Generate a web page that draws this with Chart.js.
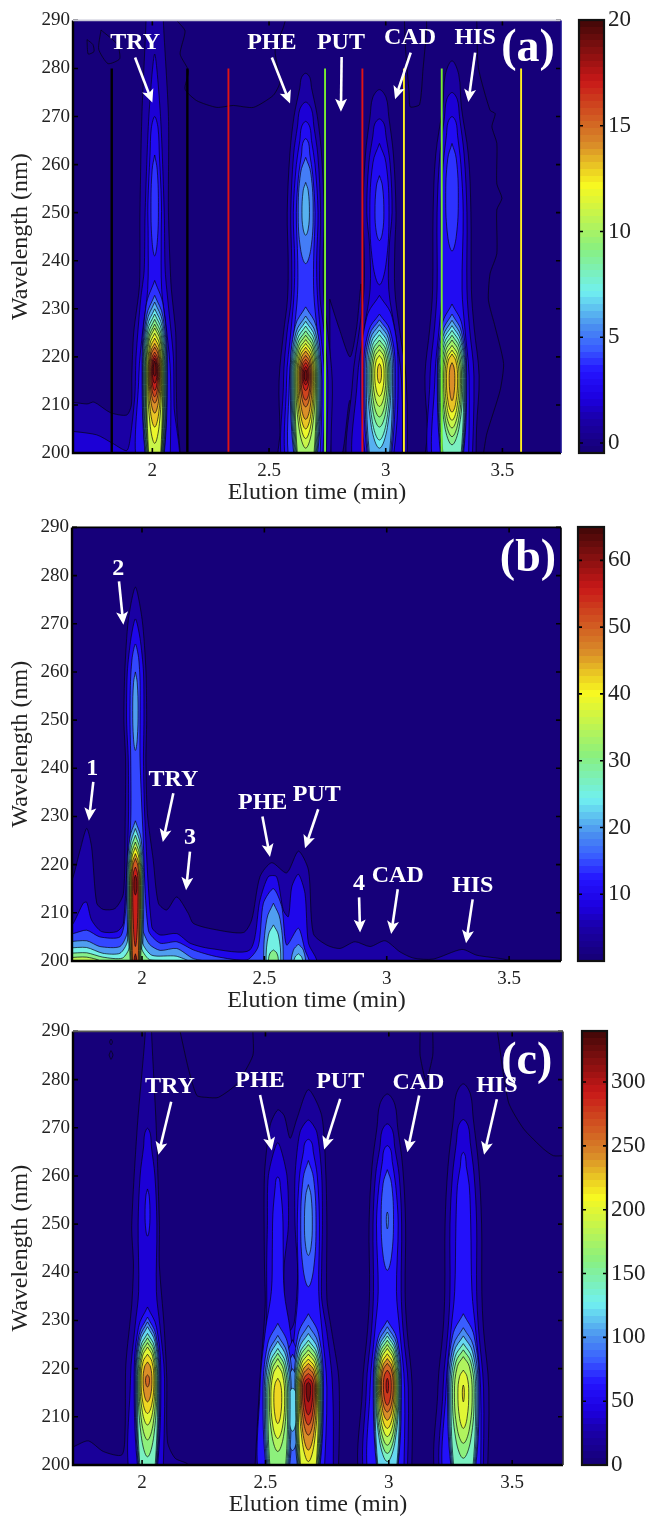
<!DOCTYPE html>
<html>
<head>
<meta charset="utf-8">
<script src="https://cdn.jsdelivr.net/npm/chart.js@4"></script>
<style>
  body { margin: 0; background: #fff; }
  #page { position: relative; width: 649px; height: 1516px; overflow: hidden; }
  canvas { position: absolute; }
</style>
</head>
<body>
<div id="page"></div>
<script>
// TICKS
const timeTicks = [2, 2.5, 3, 3.5];
const waveTicks = [200, 210, 220, 230, 240, 250, 260, 270, 280, 290];
const barTicksA = [0, 5, 10, 15, 20];
const barTicksB = [10, 20, 30, 40, 50, 60];
const barTicksC = [0, 50, 100, 150, 200, 250, 300];

// colour bar, fraction of the bar -> colour
const barStops = [0, .07, .12, .185, .24, .29, .37, .47, .62, .72, .865, 1];
const barColors = ["#16007a", "#1a00a8", "#1c00e0", "#2414ff", "#3a60ff", "#4a90f0", "#70f0f0", "#88f080", "#f8f820", "#d88828", "#c81818", "#480808"];

// PANEL A  rings are [level, lowest wavelength, highest wavelength, half width in min]
const tryLowA = [[4,190,235.9,.054],[5,190,232.8,.052],[6,190,231.4,.049],[7,190,230,.046],[8,190,228.9,.043],[9,190,227.8,.04],[10,190,226.8,.037],[11,190,226,.034],[12,202,224.9,.03],[13,205.4,223.9,.027],[14,208.3,222.8,.024],[15,210.4,222,.021],[16,211.7,221,.017],[17,213,220.3,.013],[18,214.5,219.7,.01],[19,216,219.1,.006]];
const pheLowA = [[5,190,230.4,.066],[6,190,228.5,.062],[7,190,227.4,.058],[8,190,226.4,.054],[9,190,225.4,.05],[10,190,224.5,.046],[11,201,223.6,.042],[12,203,222.8,.037],[13,205,222,.033],[14,207,221.2,.028],[15,209.6,220.3,.024],[16,211,219.5,.02],[17,213,218.8,.015],[18,214.2,218,.011],[19,215,217.3,.006]];
const cadLowA = [[3,190,232.8,.08],[4,190,228.9,.068],[5,190,227.7,.062],[6,190,226.7,.056],[7,201,225.6,.05],[8,202.7,224.6,.045],[9,205.4,223.5,.04],[10,207.5,222.5,.034],[11,209.7,221.5,.028],[12,211.8,220.3,.02],[13,214.5,218.6,.009]];
const hisLowA = [[4,190,231,.063],[5,190,228.9,.06],[6,190,227.6,.057],[7,190,226.5,.054],[8,190,225.5,.05],[9,201.7,224.5,.046],[10,203.4,223.5,.041],[11,205.2,222.4,.036],[12,206.8,221.4,.03],[13,208.5,220.6,.024],[14,210.9,218.8,.012]];
const ringSetsA = [
  [2.01, 217, tryLowA], [2.01, 251, [[4,241,262,.016]]],
  [2.657, 216, pheLowA], [2.657, 250, [[5,239.4,261.5,.032],[6,245.3,256.3,.016]]],
  [2.973, 216.5, cadLowA], [2.973, 250, [[3,235,264.4,.041],[4,244.2,257.7,.019]]],
  [3.284, 215.5, hisLowA], [3.284, 253, [[4,242,264.4,.027]]]
];
// ridges are [time, level, wavelength, half width, wavelength, half width, ...]
const ridgesA = [
  [2.01, 3, 195,.066, 216,.068, 226,.05, 234,.03, 245,.028, 252,.029, 262,.02, 270,0],
  [2.657, 1, 195,.105, 205,.11, 215,.114, 225,.095, 232,.078, 240,.075, 250,.079, 262,.068, 270,.05, 276,.025, 279,0],
  [2.657, 2, 195,.085, 215,.095, 225,.08, 232,.062, 240,.06, 250,.064, 262,.052, 268,.035, 273,0],
  [2.657, 3, 195,.07, 215,.082, 226,.062, 233,.05, 240,.047, 250,.053, 260,.04, 265,.025, 269,0],
  [2.657, 4, 195,.058, 215,.07, 226,.048, 233,.035, 240,.034, 250,.04, 258,.03, 262,.018, 265.4,0],
  [2.973, 1, 195,.12, 215,.115, 226,.085, 234,.066, 243,.066, 250,.071, 262,.06, 270,.04, 275.6,0],
  [2.973, 2, 195,.098, 215,.095, 226,.065, 234,.04, 243,.042, 250,.054, 260,.046, 266,.028, 269.5,0],
  [3.284, 1, 195,.102, 205,.105, 216,.116, 226,.095, 234,.083, 250,.081, 262,.07, 272,.04, 281.6,0],
  [3.284, 2, 195,.085, 216,.094, 226,.075, 234,.064, 250,.064, 262,.052, 270,.032, 275,0],
  [3.284, 3, 195,.07, 216,.073, 226,.055, 234,.043, 250,.048, 260,.038, 266,.024, 270,0]
];
// shapes are [level, time, wavelength, time, wavelength, ...]
const shapesA = [
  [1, 1.6,211, 1.72,210.2, 1.75,210.6, 1.82,208.4, 1.89,207.9, 1.91,210, 1.912,216, 1.92,225, 1.945,235, 1.947,250, 1.955,270, 1.973,290, 1.973,295, 2.047,295, 2.047,290, 2.069,270, 2.069,250, 2.08,235, 2.10,225, 2.102,216, 2.106,207, 2.119,200, 2.119,195, 1.6,195],
  [2, 1.6,204.8, 1.76,203.8, 1.83,202, 1.89,200.5, 1.905,203, 1.925,212, 1.93,220, 1.95,232, 1.965,238, 1.969,250, 1.985,270, 2.01,283, 2.035,270, 2.051,250, 2.055,238, 2.07,230, 2.09,220, 2.093,210, 2.098,195, 1.6,195],
  [1, 2.76,232, 2.80,226, 2.847,220, 2.875,226, 2.895,235, 2.895,195, 2.885,200, 2.847,211, 2.815,200, 2.77,195]
];
const linesA = [
  [2.104,290, 2.14,287.8, 2.119,283, 2.155,279.5, 2.14,275.7, 2.19,273.3, 2.276,271.9, 2.347,272.3, 2.433,271.9, 2.518,274.4, 2.547,277.2, 2.526,283.7, 2.561,288.5, 2.57,290],
  [3.08,290, 3.085,284, 3.10,275, 3.105,272, 3.145,272.5, 3.16,280, 3.175,288, 3.175,290],
  [3.39,290, 3.397,280.2, 3.447,271.3, 3.469,270.6, 3.455,267.9, 3.476,264.4, 3.476,256, 3.498,253, 3.476,250.6, 3.476,241.5, 3.447,237.3, 3.44,231.8, 3.469,226.2, 3.505,218.6, 3.49,213, 3.433,204, 3.419,200],
  [1.72,286, 1.745,285, 1.75,283.5, 1.725,283, 1.72,286],
  [1.78,288, 1.85,285, 1.86,282, 1.81,281, 1.77,284, 1.78,288]
];
const markerTimes = [1.826, 2.15, 2.326, 2.90, 2.74, 3.24, 3.078, 3.58];
const markerColors = ["#000", "#000", "#e01414", "#e01414", "#78f030", "#78f030", "#fff020", "#fff020"];
const markerRange = [200, 280];
// arrows are [label, label time, label wavelength, tail time, tail wavelength, tip time, tip wavelength]
const arrowsA = [
  ["TRY", 1.926,285.3, 1.926,282.3, 2.0,272.9],
  ["PHE", 2.512,285.3, 2.512,282.3, 2.59,272.7],
  ["PUT", 2.808,285.3, 2.811,282.4, 2.808,271],
  ["CAD", 3.104,286.4, 3.107,283.3, 3.04,273.6],
  ["HIS", 3.383,286.4, 3.383,283.3, 3.354,273]
];

// PANEL B
const lowB2 = [[20,190,229.1,.034],[25,190,227.5,.03],[30,190,226.1,.027],[35,190,224.7,.024],[40,190,223.6,.021],[45,190,222.3,.018],[50,190,221.3,.015],[55,203,219.5,.011],[60,213.7,217.8,.006]];
const ringSetsB = [
  [1.973, 215.7, lowB2], [1.973, 252, [[20,243.7,260,.011]]], [1.973, 199, [[60,196,201.5,.006]]],
  [2.537, 200, [[20,188,212,.04],[25,188,207.5,.03],[30,190,202.3,.02]]],
  [2.639, 199, [[20,190,203.5,.03],[25,190,201.5,.02]]]
];
const ridgesB = [];
const shapesB = [
  [5, 1.70,215, 1.719,217.5, 1.747,223, 1.774,227.5, 1.794,223.7, 1.815,212, 1.842,210.7, 1.89,210.9, 1.924,214, 1.931,227.8, 1.933,241.7, 1.926,249.9, 1.93,260.3, 1.944,270.7, 1.973,277.6, 2.001,270.7, 2.016,260.3, 2.019,249.9, 2.016,241.7, 2.022,230.6, 2.046,220.9, 2.067,212, 2.101,210.6, 2.142,213.3, 2.189,209.9, 2.21,207.8, 2.291,206.6, 2.414,205.9, 2.448,208.5, 2.482,217.5, 2.53,220.4, 2.591,218.3, 2.639,222.8, 2.68,218.9, 2.70,205.7, 2.755,203.3, 2.809,202.6, 2.87,204, 2.932,203, 2.993,204.2, 3.054,201.9, 3.109,200.6, 3.19,200.4, 3.307,202.4, 3.368,201.2, 3.477,200.4, 3.531,199.5, 3.53,195, 1.70,195],
  [10, 1.70,207, 1.719,207.8, 1.76,212, 1.774,212.2, 1.794,208.5, 1.835,206.1, 1.897,206.1, 1.924,207.8, 1.944,227.8, 1.944,241.7, 1.937,250, 1.94,260, 1.955,267, 1.973,271, 1.992,267, 2.006,260, 2.008,250, 2.006,241.7, 2.012,229.2, 2.04,207.1, 2.074,205.4, 2.142,205.7, 2.196,203.7, 2.278,202.6, 2.441,202.3, 2.482,212.6, 2.516,217.5, 2.55,217.5, 2.577,210.6, 2.598,209.2, 2.612,215.4, 2.639,218, 2.666,214, 2.68,203.7, 2.714,200.2, 2.72,195, 1.70,195],
  [15, 1.70,205.7, 1.719,205.7, 1.774,206.4, 1.828,205, 1.91,205, 1.931,209.2, 1.954,229.2, 1.954,241.7, 1.951,250, 1.953,258, 1.96,263, 1.973,265.8, 1.986,263, 1.992,258, 1.992,250, 1.992,241.7, 2.003,227.8, 2.026,206.4, 2.074,203.7, 2.142,204, 2.21,202.3, 2.305,200.9, 2.428,200.2, 2.475,203, 2.496,212, 2.537,215, 2.571,211.3, 2.591,203.3, 2.639,206.8, 2.666,202.3, 2.686,199.6, 2.69,195, 1.70,195],
  [20, 1.70,204, 1.774,204.2, 1.828,203, 1.91,203, 1.94,206, 1.95,215, 1.99,215, 2.0,207, 2.03,203.5, 2.074,202.2, 2.142,202.6, 2.21,200.5, 2.3,199.5, 1.70,195],
  [25, 1.70,202.7, 1.774,202.8, 1.84,201.6, 1.91,201.6, 1.94,204, 1.95,212, 1.99,212, 2.0,204, 2.04,201.2, 2.14,201, 2.2,199.5, 1.70,195],
  [30, 1.70,201.6, 1.774,201.7, 1.84,200.8, 1.92,200.6, 1.95,203, 1.96,212, 1.985,212, 1.995,203, 2.03,200.3, 2.1,200, 2.12,199, 1.70,195],
  [35, 1.70,200.7, 1.774,200.8, 1.83,199.8, 1.70,195]
];
const linesB = [];
const arrowsB = [
  ["1", 1.797,239.9, 1.801,237.2, 1.783,229.1],
  ["2", 1.903,281.4, 1.906,278.8, 1.924,269.8],
  ["TRY", 2.128,237.7, 2.128,234.8, 2.085,224.7],
  ["3", 2.196,225.6, 2.196,222.7, 2.18,214.7],
  ["PHE", 2.493,232.9, 2.492,230, 2.523,221.6],
  ["PUT", 2.714,234.5, 2.72,231.5, 2.666,223.4],
  ["4", 2.887,216, 2.887,213.2, 2.891,205.9],
  ["CAD", 3.045,217.7, 3.045,214.9, 3.018,205.6],
  ["HIS", 3.351,215.6, 3.351,212.8, 3.324,203.7]
];

// PANEL C
const tryLowC = [[60,190,232.8,.054],[80,190,230.7,.05],[100,190,229.7,.047],[120,190,228.7,.044],[140,190,227.3,.041],[160,201.7,226.4,.038],[180,205.2,225.4,.034],[200,208.3,224.5,.03],[220,210.7,223,.026],[240,213.1,221.4,.018],[260,216.2,218.7,.008]];
const pheLowC = [[80,190,229.4,.06],[100,190,226.9,.055],[120,190,225.7,.05],[140,190,224.2,.045],[160,190,223.2,.04],[180,202.8,222.1,.034],[200,205.5,220.7,.028],[220,208.6,218,.016]];
const putLowC = [[80,190,231.4,.061],[100,190,229,.058],[120,190,227.3,.055],[140,190,225.9,.052],[160,190,225,.049],[180,190,223.9,.045],[200,190,223,.041],[220,200.7,222,.037],[240,203.1,221.1,.033],[260,206.2,220.1,.029],[280,208.3,219,.024],[300,210.4,218,.018],[320,213.1,217.2,.009]];
const cadLowC = [[80,190,230,.057],[100,190,228.7,.054],[120,190,227.6,.05],[140,200.7,226.8,.047],[160,202.4,225.9,.044],[180,204.1,225,.04],[200,205.9,224.2,.036],[220,207.6,223.1,.032],[240,209.3,222.1,.028],[260,211,221.1,.024],[280,212.4,219.7,.016],[300,214.9,218,.005]];
const hisLowC = [[80,190,231.4,.064],[100,190,228.5,.06],[120,190,226.8,.055],[140,190,225.2,.05],[160,201.4,223.9,.044],[180,204.5,222.5,.036],[200,207.6,219.7,.022],[220,213.1,216.6,.004]];
const ringSetsC = [
  [2.022, 217.6, tryLowC], [2.022, 252, [[60,247.5,257.3,.01]]],
  [2.55, 214, pheLowC],
  [2.61, 213, [[60,190,226,.04],[80,190,223,.035],[100,203,220,.03],[120,207,216,.02]]],
  [2.674, 216, putLowC], [2.674, 250, [[80,237,263.2,.031],[100,243.5,258.2,.016]]],
  [2.994, 216.5, cadLowC], [2.994, 251, [[80,240.4,261.3,.025],[100,249,252.5,.004]]],
  [3.302, 215, hisLowC]
];
const ridgesC = [
  [2.022, 40, 195,.062, 218,.069, 229,.05, 236,.036, 250,.038, 260,.03, 266,.016, 269.9,0],
  [2.55, 60, 195,.065, 216,.072, 228,.05, 236,.026, 245,.022, 252,.02, 258,.01, 259.8,0],
  [2.674, 60, 195,.062, 216,.075, 228,.055, 236,.042, 250,.045, 260,.036, 265,.02, 267.6,0],
  [2.994, 20, 195,.098, 216,.101, 228,.08, 236,.072, 250,.074, 262,.062, 270,.042, 277,0],
  [2.994, 40, 195,.08, 216,.085, 228,.064, 236,.056, 250,.058, 260,.048, 266,.03, 270.8,0],
  [2.994, 60, 195,.066, 216,.07, 228,.05, 236,.037, 250,.044, 258,.034, 263,.02, 266.3,0],
  [3.302, 20, 195,.097, 216,.103, 228,.082, 236,.075, 250,.074, 262,.062, 272,.04, 279.1,0],
  [3.302, 40, 195,.08, 216,.082, 228,.062, 236,.054, 250,.054, 260,.044, 267,.028, 271.7,0],
  [3.302, 60, 195,.07, 216,.07, 228,.05, 236,.035, 250,.03, 258,.024, 262,.012, 264.9,0]
];
const shapesC = [
  [20, 1.70,203.5, 1.722,203.8, 1.782,205, 1.843,202.8, 1.918,202.1, 1.931,206.9, 1.934,220.7, 1.958,233.2, 1.965,241.5, 1.958,249.7, 1.981,270.5, 2.012,289, 2.015,295, 2.036,295, 2.039,289, 2.057,270.5, 2.07,249.7, 2.07,241.5, 2.089,229, 2.1,218, 2.103,204.8, 2.134,201.4, 2.188,200, 2.19,195, 1.70,195],
  [20, 2.458,200, 2.478,218, 2.499,233.2, 2.496,241.5, 2.496,260.1, 2.519,270.5, 2.55,273.7, 2.576,272.5, 2.6,267.8, 2.627,271.8, 2.674,277.9, 2.728,272.5, 2.745,260.1, 2.749,249.7, 2.749,234.5, 2.769,227.6, 2.796,218.7, 2.8,210.4, 2.796,200, 2.79,195, 2.45,195],
  [40, 2.499,200, 2.495,217.3, 2.505,231.1, 2.505,241.5, 2.508,249.7, 2.512,260.1, 2.55,266.9, 2.587,260.1, 2.593,249.7, 2.576,241.5, 2.576,234.5, 2.587,229, 2.6,227.9, 2.617,229.7, 2.63,238, 2.63,241.5, 2.62,249.7, 2.62,260.1, 2.64,269.1, 2.674,271.6, 2.708,269.1, 2.728,260.1, 2.731,249.7, 2.728,241.5, 2.728,234.5, 2.749,227.6, 2.769,218.7, 2.775,210.4, 2.775,200, 2.775,195, 2.49,195]
];
const linesC = [
  [2.154,290, 2.188,282.2, 2.222,276.7, 2.262,276.3, 2.309,276.3, 2.384,279.1, 2.449,285, 2.449,290],
  [3.127,290, 3.127,285, 3.151,279.8, 3.178,285, 3.178,290],
  [3.44,290, 3.485,275.3, 3.546,269.8, 3.627,265.6, 3.667,264.2, 3.71,264.2],
  [1.866,285.1, 1.874,286, 1.882,285.1, 1.874,284.2, 1.866,285.1],
  [1.868,287.8, 1.874,288.4, 1.88,287.8, 1.874,287.2, 1.868,287.8]
];
const arrowsC = [
  ["TRY", 2.113,278.4, 2.118,275.4, 2.066,264.4],
  ["PHE", 2.478,279.8, 2.478,276.8, 2.526,265.3],
  ["PUT", 2.803,279.6, 2.803,276, 2.738,265.5],
  ["CAD", 3.12,279.4, 3.123,276.7, 3.075,264.9],
  ["HIS", 3.438,278.8, 3.438,275.9, 3.386,264.4]
];

const serif = "'Liberation Serif', 'Times New Roman', serif";

function hex(c) {
  return [1, 3, 5].map(i => parseInt(c.slice(i, i + 2), 16));
}

// same 64 step map as the colour bar
function bandColor(f) {
  f = Math.max(0, Math.min(1, Math.floor(f * 64) / 63));
  let i = 0;
  while (i < barStops.length - 2 && f > barStops[i + 1]) i++;
  const k = (f - barStops[i]) / (barStops[i + 1] - barStops[i]);
  const a = hex(barColors[i]), b = hex(barColors[i + 1]);
  const rgb = a.map((v, n) => Math.round(v + (b[n] - v) * k));
  return `rgb(${rgb[0]},${rgb[1]},${rgb[2]})`;
}

// shoulders keep the closed contours oval instead of diamond shaped
function ringPoints(t, mid, row) {
  const [, low, high, half] = row;
  const s = half * .68, up = mid + (high - mid) * .72, down = mid - (mid - low) * .72;
  return [
    {x: t, y: high}, {x: t + s, y: up}, {x: t + half, y: mid}, {x: t + s, y: down},
    {x: t, y: low}, {x: t - s, y: down}, {x: t - half, y: mid}, {x: t - s, y: up}, {x: t, y: high}
  ];
}

function ridgePoints(ridge) {
  const t = ridge[0], right = [], left = [];
  for (let i = 2; i < ridge.length; i += 2) {
    const w = ridge[i], h = ridge[i + 1];
    if (h === 0) {
      const pw = ridge[i - 2], ph = ridge[i - 1];
      const sw = w - (w - pw) * .3, sh = ph * .72;
      right.push({x: t + sh, y: sw});
      left.unshift({x: t - sh, y: sw});
      right.push({x: t, y: w});
    } else {
      right.push({x: t + h, y: w});
      left.unshift({x: t - h, y: w});
    }
  }
  const pts = right.concat(left);
  pts.push(pts[0]);
  return pts;
}

function flatPoints(list) {
  const pts = [];
  for (let i = 0; i + 1 < list.length; i += 2) pts.push({x: list[i], y: list[i + 1]});
  return pts;
}

function contourDatasets(panel) {
  const rows = [];
  panel.ringSets.forEach(([t, mid, set]) => {
    set.forEach(row => rows.push({level: row[0], data: ringPoints(t, mid, row), tension: .4}));
  });
  panel.ridges.forEach(r => rows.push({level: r[1], data: ridgePoints(r), tension: .35}));
  panel.shapes.forEach(s => {
    const pts = flatPoints(s.slice(1));
    pts.push(pts[0]);
    rows.push({level: s[0], data: pts, tension: .25});
  });
  rows.sort((a, b) => b.level - a.level);
  const range = panel.max - panel.min;
  const sets = rows.map(r => ({
    data: r.data,
    showLine: true,
    fill: "shape",
    tension: r.tension,
    backgroundColor: bandColor((r.level - panel.min) / range),
    borderColor: "rgba(5,5,15,.85)",
    borderWidth: .8,
    pointRadius: 0
  }));
  panel.lines.forEach(l => sets.push({
    data: flatPoints(l), showLine: true, fill: false, tension: .2,
    borderColor: "rgba(5,5,15,.9)", borderWidth: .8, pointRadius: 0
  }));
  if (panel.markers) {
    markerTimes.forEach((t, i) => sets.unshift({
      data: [{x: t, y: markerRange[0]}, {x: t, y: markerRange[1]}], showLine: true, fill: false,
      borderColor: markerColors[i], borderWidth: markerColors[i] === "#000" ? 2.4 : 1.9, pointRadius: 0
    }));
  }
  return sets;
}

function drawArrow(ctx, x1, y1, x2, y2) {
  const a = Math.atan2(y2 - y1, x2 - x1);
  const neck = 9;
  ctx.strokeStyle = "#fff";
  ctx.fillStyle = "#fff";
  ctx.lineWidth = 2.6;
  ctx.beginPath();
  ctx.moveTo(x1, y1);
  ctx.lineTo(x2 - neck * Math.cos(a), y2 - neck * Math.sin(a));
  ctx.stroke();
  ctx.save();
  ctx.translate(x2, y2);
  ctx.rotate(a);
  ctx.beginPath();
  ctx.moveTo(0, 0);
  ctx.lineTo(-13, -6);
  ctx.lineTo(-10, 0);
  ctx.lineTo(-13, 6);
  ctx.closePath();
  ctx.fill();
  ctx.restore();
}

function inwardTicks(ctx, scale, area, len) {
  ctx.strokeStyle = "#000";
  ctx.lineWidth = 1.6;
  scale.ticks.forEach(tick => {
    const p = scale.getPixelForValue(tick.value);
    ctx.beginPath();
    if (scale.isHorizontal()) {
      ctx.moveTo(p, area.bottom); ctx.lineTo(p, area.bottom - len);
      ctx.moveTo(p, area.top); ctx.lineTo(p, area.top + len);
    } else {
      ctx.moveTo(area.left, p); ctx.lineTo(area.left + len, p);
      ctx.moveTo(area.right, p); ctx.lineTo(area.right - len, p);
    }
    ctx.stroke();
  });
}

function frameLines(ctx, area, colorTop, colorRight) {
  ctx.lineWidth = 2.4;
  ctx.strokeStyle = "#000";
  ctx.beginPath();
  ctx.moveTo(area.left, area.top); ctx.lineTo(area.left, area.bottom); ctx.lineTo(area.right, area.bottom);
  ctx.stroke();
  ctx.lineWidth = 1.6;
  ctx.strokeStyle = colorTop;
  ctx.beginPath(); ctx.moveTo(area.left, area.top); ctx.lineTo(area.right, area.top); ctx.stroke();
  ctx.strokeStyle = colorRight;
  ctx.beginPath(); ctx.moveTo(area.right, area.top); ctx.lineTo(area.right, area.bottom); ctx.stroke();
}

function mainChart(panel) {
  const page = document.getElementById("page");
  const canvas = document.createElement("canvas");
  const topPad = 14;
  const canvasTop = panel.top - topPad;
  const width = 576;
  const height = panel.bottom - panel.top + topPad + 55;
  canvas.width = width;
  canvas.height = height;
  canvas.style.left = "0px";
  canvas.style.top = canvasTop + "px";
  page.appendChild(canvas);

  const overlay = {
    id: "overlay",
    beforeDatasetsDraw(chart) {
      const {ctx, chartArea: a} = chart;
      ctx.save();
      ctx.fillStyle = bandColor(0);
      ctx.fillRect(a.left, a.top, a.right - a.left, a.bottom - a.top);
      ctx.restore();
    },
    afterDatasetsDraw(chart) {
      const {ctx, chartArea: a, scales} = chart;
      ctx.save();
      ctx.beginPath();
      ctx.rect(a.left, a.top, a.right - a.left, a.bottom - a.top);
      ctx.clip();
      panel.arrows.forEach(([text, lx, ly, tx, ty, hx, hy]) => {
        drawArrow(ctx, scales.x.getPixelForValue(tx), scales.y.getPixelForValue(ty), scales.x.getPixelForValue(hx), scales.y.getPixelForValue(hy));
        ctx.font = `bold 24px ${serif}`;
        ctx.fillStyle = "#fff";
        ctx.textAlign = "center";
        ctx.textBaseline = "middle";
        ctx.fillText(text, scales.x.getPixelForValue(lx), scales.y.getPixelForValue(ly));
      });
      ctx.font = `bold 46px ${serif}`;
      ctx.fillStyle = "#fff";
      ctx.textAlign = "center";
      ctx.textBaseline = "middle";
      ctx.fillText(panel.tag[0], scales.x.getPixelForValue(panel.tag[1]), scales.y.getPixelForValue(panel.tag[2]));
      ctx.restore();
      ctx.save();
      inwardTicks(ctx, scales.x, a, 5);
      inwardTicks(ctx, scales.y, a, 5);
      frameLines(ctx, a, panel.frameTop, panel.frameRight);
      ctx.restore();
    }
  };

  new Chart(canvas, {
    type: "scatter",
    data: {datasets: contourDatasets(panel)},
    plugins: [overlay],
    options: {
      responsive: false,
      animation: false,
      events: [],
      layout: {padding: {top: topPad, right: width - panel.right, left: 0, bottom: 0}},
      plugins: {legend: {display: false}, tooltip: {enabled: false}},
      scales: {
        x: {
          type: "linear",
          min: panel.xMin,
          max: panel.xMax,
          grid: {display: false, drawTicks: false},
          border: {display: false},
          afterBuildTicks: s => { s.ticks = timeTicks.map(v => ({value: v})); },
          afterFit: s => { s.height = 55; },
          ticks: {color: "#222", padding: 7, maxRotation: 0, autoSkip: false, font: {family: serif, size: 19}, callback: v => String(v)},
          title: {display: true, text: "Elution time (min)", color: "#222", font: {family: serif, size: 24}, padding: {top: 0, bottom: 1}}
        },
        y: {
          type: "linear",
          min: 200,
          max: 290,
          grid: {display: false, drawTicks: false},
          border: {display: false},
          afterBuildTicks: s => { s.ticks = waveTicks.map(v => ({value: v})); },
          afterFit: s => { s.width = panel.left; },
          ticks: {color: "#222", padding: 3, autoSkip: false, font: {family: serif, size: 19}, callback: v => String(v)},
          title: {display: true, text: "Wavelength (nm)", color: "#222", font: {family: serif, size: 24}, padding: {top: 6, bottom: 0}}
        }
      }
    }
  });
}

function colorBar(panel) {
  const page = document.getElementById("page");
  const canvas = document.createElement("canvas");
  // room for half a tick label, or the layout shrinks the bar
  const topPad = 22;
  const canvasLeft = panel.barLeft - 6;
  const labelSpace = 46;
  const width = panel.barRight - panel.barLeft + 6 + labelSpace;
  canvas.width = width;
  canvas.height = panel.bottom - panel.top + 2 * topPad;
  canvas.style.left = canvasLeft + "px";
  canvas.style.top = (panel.top - topPad) + "px";
  page.appendChild(canvas);

  const frame = {
    id: "barFrame",
    afterDatasetsDraw(chart) {
      const {ctx, chartArea: a, scales} = chart;
      ctx.save();
      inwardTicks(ctx, scales.y, a, 4);
      ctx.lineWidth = 2.2;
      ctx.strokeStyle = "#111";
      ctx.strokeRect(a.left, a.top, a.right - a.left, a.bottom - a.top);
      ctx.restore();
    }
  };

  new Chart(canvas, {
    type: "bar",
    data: {
      labels: ["scale"],
      datasets: [{
        data: [[panel.min, panel.max]],
        barPercentage: 1,
        categoryPercentage: 1,
        backgroundColor(c) {
          const a = c.chart.chartArea;
          if (!a) return bandColor(0);
          const g = c.chart.ctx.createLinearGradient(0, a.bottom, 0, a.top);
          for (let i = 0; i < 64; i++) {
            g.addColorStop(i / 64, bandColor((i + .5) / 64));
            g.addColorStop((i + 1) / 64, bandColor((i + .5) / 64));
          }
          return g;
        }
      }]
    },
    plugins: [frame],
    options: {
      responsive: false,
      animation: false,
      events: [],
      layout: {padding: {top: topPad, bottom: topPad, left: 6, right: 0}},
      plugins: {legend: {display: false}, tooltip: {enabled: false}},
      scales: {
        x: {display: false},
        y: {
          type: "linear",
          position: "right",
          min: panel.min,
          max: panel.max,
          grid: {display: false, drawTicks: false},
          border: {display: false},
          afterBuildTicks: s => { s.ticks = panel.barTicks.map(v => ({value: v})); },
          afterFit: s => { s.width = labelSpace; },
          ticks: {color: "#222", padding: 4, autoSkip: false, font: {family: serif, size: 23}, callback: v => String(v)}
        }
      }
    }
  });
}

const panels = [
  {top: 19.5, bottom: 453, left: 73, right: 561, barLeft: 579, barRight: 604, xMin: 1.66, xMax: 3.751, min: -.47, max: 20,
   barTicks: barTicksA, ringSets: ringSetsA, ridges: ridgesA, shapes: shapesA, lines: linesA, arrows: arrowsA, markers: true,
   tag: ["(a)", 3.61, 284], frameTop: "#c8c8d8", frameRight: "#1a1090"},
  {top: 527, bottom: 961, left: 72, right: 561, barLeft: 578, barRight: 604, xMin: 1.714, xMax: 3.712, min: 0, max: 65,
   barTicks: barTicksB, ringSets: ringSetsB, ridges: ridgesB, shapes: shapesB, lines: linesB, arrows: arrowsB, markers: false,
   tag: ["(b)", 3.577, 283.5], frameTop: "#000", frameRight: "#000"},
  {top: 1031, bottom: 1465, left: 73, right: 563, barLeft: 582, barRight: 607, xMin: 1.72, xMax: 3.706, min: 0, max: 340,
   barTicks: barTicksC, ringSets: ringSetsC, ridges: ridgesC, shapes: shapesC, lines: linesC, arrows: arrowsC, markers: false,
   tag: ["(c)", 3.559, 283.6], frameTop: "#555", frameRight: "#333"}
];

panels.forEach(p => {
  mainChart(p);
  colorBar(p);
});
</script>
</body>
</html>
